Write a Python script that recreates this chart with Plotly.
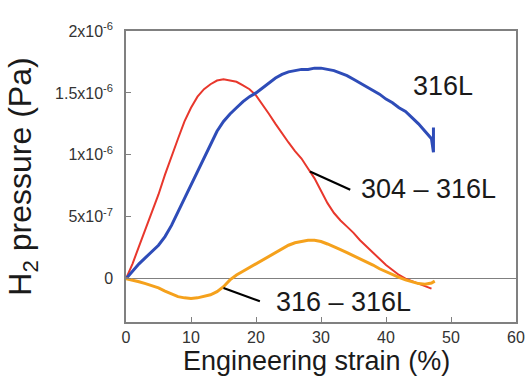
import plotly.graph_objects as go

# Engineering strain (%) and H2 partial pressure (Pa, in units of 1e-6)
strain_316L = [0, 1, 2, 3, 4, 5, 6, 7, 8, 9, 10, 11, 12, 13, 14, 15, 16, 17, 18, 19,
               20, 21, 22, 23, 24, 25, 26, 27, 28, 29, 30, 31, 32, 33, 34, 35, 36, 37,
               38, 39, 40, 41, 42, 43, 44, 45, 46, 47, 47.3, 47.3]
p_316L = [0, 0.06, 0.12, 0.17, 0.22, 0.27, 0.34, 0.43, 0.54, 0.65, 0.76, 0.87, 0.98,
          1.09, 1.19, 1.27, 1.33, 1.38, 1.43, 1.47, 1.50, 1.54, 1.58, 1.62, 1.65, 1.67,
          1.68, 1.69, 1.69, 1.70, 1.70, 1.69, 1.68, 1.66, 1.64, 1.61, 1.58, 1.55, 1.52,
          1.49, 1.45, 1.42, 1.38, 1.35, 1.30, 1.25, 1.19, 1.13, 1.02, 1.22]

strain_304 = [0, 1, 2, 3, 4, 5, 6, 7, 8, 9, 10, 11, 12, 13, 14, 15, 16, 17, 18, 19,
              20, 21, 22, 23, 24, 25, 26, 27, 28, 29, 30, 31, 32, 33, 34, 35, 36, 37,
              38, 39, 40, 41, 42, 43, 44, 45, 46, 47]
p_304 = [0, 0.12, 0.26, 0.40, 0.54, 0.68, 0.84, 0.99, 1.13, 1.27, 1.38, 1.47, 1.53,
         1.57, 1.60, 1.61, 1.60, 1.59, 1.56, 1.53, 1.48, 1.41, 1.33, 1.25, 1.17, 1.10,
         1.03, 0.97, 0.89, 0.81, 0.71, 0.61, 0.53, 0.47, 0.42, 0.37, 0.31, 0.26, 0.21,
         0.16, 0.11, 0.07, 0.03, 0.0, -0.02, -0.045, -0.06, -0.08]

strain_316 = [0, 1, 2, 3, 4, 5, 6, 7, 8, 9, 10, 11, 12, 13, 14, 15, 16, 17, 18, 19,
              20, 21, 22, 23, 24, 25, 26, 27, 28, 29, 30, 31, 32, 33, 34, 35, 36, 37,
              38, 39, 40, 41, 42, 43, 44, 45, 46, 47, 47.5]
p_316 = [0.0, -0.01, -0.025, -0.04, -0.055, -0.075, -0.10, -0.125, -0.145, -0.155,
         -0.16, -0.155, -0.145, -0.13, -0.105, -0.065, -0.01, 0.03, 0.06, 0.09, 0.12,
         0.15, 0.18, 0.21, 0.24, 0.27, 0.29, 0.30, 0.31, 0.31, 0.30, 0.28, 0.26, 0.235,
         0.21, 0.185, 0.16, 0.14, 0.11, 0.08, 0.055, 0.03, 0.01, -0.01, -0.025, -0.04,
         -0.045, -0.035, -0.02]

x_ticks = [0, 10, 20, 30, 40, 50, 60]
y_tickvals = [0, 0.5, 1.0, 1.5, 2.0]
y_ticktext = ["0", "5x10<sup>-7</sup>", "1x10<sup>-6</sup>",
              "1.5x10<sup>-6</sup>", "2x10<sup>-6</sup>"]
x_title = "Engineering strain (%)"
y_title = "H<sub>2</sub> pressure (Pa)"

# Curve labels: text, text position, leader-line start/end (strain, pressure)
labels = [
    ("316L", 48.8, 1.556, None),
    ("304 \u2013 316L", 46.6, 0.726, (28.3, 0.865, 34.5, 0.718)),
    ("316 \u2013 316L", 33.4, -0.19, (15.0, -0.075, 20.6, -0.183)),
]

SCALE = 1e-6
FONT = "Liberation Sans, Arial, sans-serif"
FRAME = "#808080"

fig = go.Figure()
fig.add_trace(go.Scatter(x=strain_304, y=[v * SCALE for v in p_304], mode="lines",
                         line=dict(color="#e8372c", width=2), name="304 - 316L"))
fig.add_trace(go.Scatter(x=strain_316L, y=[v * SCALE for v in p_316L], mode="lines",
                         line=dict(color="#2e4cb8", width=3), name="316L"))
fig.add_trace(go.Scatter(x=strain_316, y=[v * SCALE for v in p_316], mode="lines",
                         line=dict(color="#f5a11c", width=3), name="316 - 316L"))

for text, tx, ty, lead in labels:
    fig.add_annotation(x=tx, y=ty * SCALE, text=text, showarrow=False,
                       font=dict(family=FONT, size=27, color="#1a1a1a"))
    if lead:
        x0, y0, x1, y1 = lead
        fig.add_shape(type="line", x0=x0, y0=y0 * SCALE, x1=x1, y1=y1 * SCALE,
                      line=dict(color="black", width=2.2))

# x-axis title sits at the very bottom of the figure, just under the tick labels
fig.add_annotation(text=x_title, xref="x", x=29.3, yref="paper", y=0,
                   yanchor="bottom", yshift=-55, showarrow=False,
                   borderpad=0,
                   font=dict(family=FONT, size=27, color="#1a1a1a"))

fig.update_layout(
    width=530, height=377,
    margin=dict(l=126, r=14, t=31, b=55),
    paper_bgcolor="white", plot_bgcolor="white",
    showlegend=False,
    font=dict(family=FONT, color="#333333"),
)
fig.update_xaxes(
    range=[0, 60], tickvals=x_ticks, showgrid=False, zeroline=False,
    showline=True, mirror=True, linecolor=FRAME, linewidth=1.5,
    ticks="inside", ticklen=5, tickcolor=FRAME, automargin=False,
    tickfont=dict(family=FONT, size=16, color="#333333"),
)
fig.update_yaxes(
    range=[-0.35 * SCALE, 2.0 * SCALE], tickvals=[v * SCALE for v in y_tickvals],
    ticktext=y_ticktext, showgrid=False,
    zeroline=True, zerolinecolor=FRAME, zerolinewidth=1,
    showline=True, mirror=True, linecolor=FRAME, linewidth=1.5,
    ticks="inside", ticklen=5, tickcolor=FRAME, ticklabelstandoff=8,
    automargin=False,
    tickfont=dict(family=FONT, size=16, color="#333333"),
    title=dict(text=y_title, standoff=14,
               font=dict(family=FONT, size=32, color="#1a1a1a")),
)

fig.write_html("out.html")
